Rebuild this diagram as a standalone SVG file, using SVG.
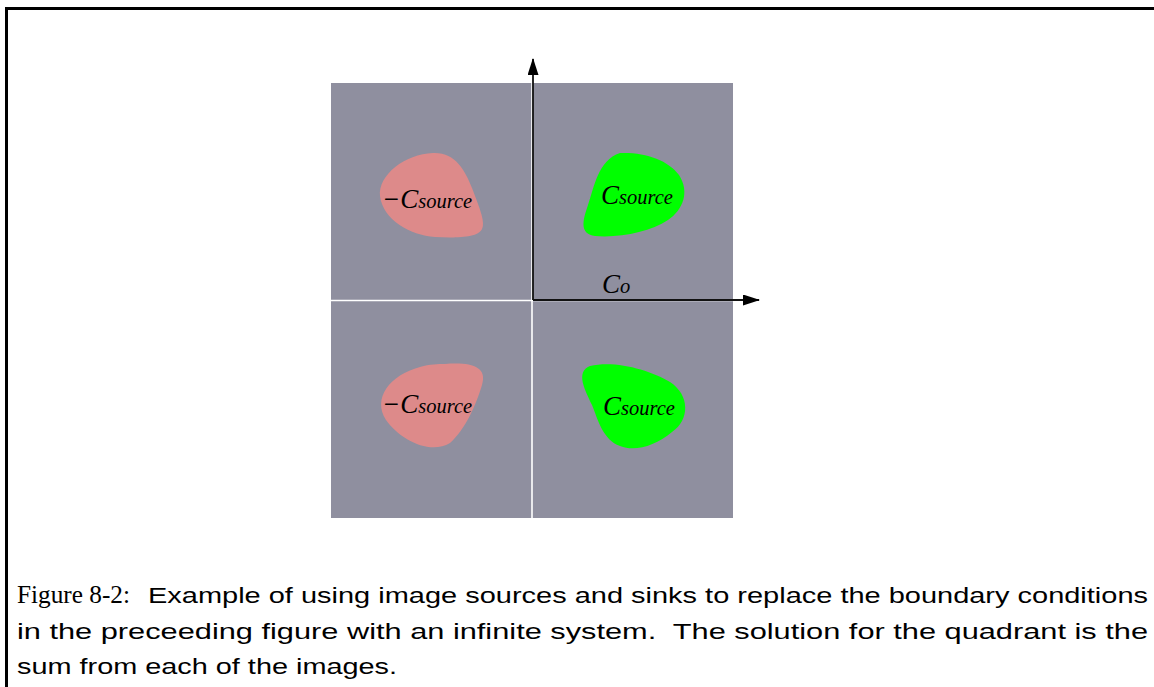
<svg xmlns="http://www.w3.org/2000/svg" width="1154" height="687" viewBox="0 0 1154 687">
  <style>
    .frame { fill: none; stroke: #000; stroke-width: 3; }
    .field { fill: #8f8f9f; }
    .split { stroke: #fff; stroke-width: 1.6; }
    .axis { stroke: #111; stroke-width: 1.8; fill: none; }
    .sink { fill: #dd8a8a; }
    .source { fill: #00ff00; }
    .lbl { font-family: "Liberation Serif", "Times New Roman", serif; font-style: italic; fill: #000; }
    .big { font-size: 27px; }
    .sub { font-size: 20.5px; }
    .cap { font-family: "Liberation Sans", Arial, sans-serif; font-size: 22px; fill: #000; }
    .capserif { font-family: "Liberation Serif", "Times New Roman", serif; font-size: 25px; fill: #000; }
  </style>
  <defs>
    <marker id="head" markerUnits="userSpaceOnUse" markerWidth="17" markerHeight="11" refX="16" refY="5.5" orient="auto">
      <path d="M0,0 L17,5.5 L0,11 Z" fill="#000"/>
    </marker>
  </defs>

  <rect width="1154" height="687" fill="#fff"/>
  <!-- page frame: top and left rules -->
  <path class="frame" d="M6.5,687 V8.5 H1154"/>

  <!-- quadrant field -->
  <g id="field">
    <rect class="field" x="331" y="83" width="402" height="435"/>
    <line class="split" x1="532" y1="83" x2="532" y2="518"/>
    <line class="split" x1="331" y1="300.5" x2="733" y2="300.5"/>
  </g>

  <!-- image sinks and sources -->
  <g id="sink-top-left">
    <path class="sink" d="M433,153 C455,152 465,170 472,188 C478,204 486,222 482,229 C478,238 455,238 435,237 C410,235 383,220 380,196 C378,175 405,154 433,153 Z"/>
    <text class="lbl" x="382" y="208"><tspan class="big">−C</tspan><tspan class="sub">source</tspan></text>
  </g>
  <g id="source-top-right">
    <path class="source" d="M620,153 C645,152 668,160 679,175 C690,192 683,210 668,220 C650,232 620,238 595,236 C580,234 582,222 588,205 C594,188 598,160 620,153 Z"/>
    <text class="lbl" x="601" y="204"><tspan class="big">C</tspan><tspan class="sub">source</tspan></text>
  </g>
  <g id="sink-bottom-left">
    <path class="sink" d="M445,364 C470,362 488,366 482,385 C476,405 465,430 450,443 C430,455 400,440 386,420 C372,398 390,375 420,367 C430,364 438,364 445,364 Z"/>
    <text class="lbl" x="382" y="413"><tspan class="big">−C</tspan><tspan class="sub">source</tspan></text>
  </g>
  <g id="source-bottom-right">
    <path class="source" d="M590,366 C615,360 650,370 670,382 C690,395 690,420 672,432 C655,446 635,452 620,446 C603,440 598,420 592,405 C585,390 575,372 590,366 Z"/>
    <text class="lbl" x="603" y="415"><tspan class="big">C</tspan><tspan class="sub">source</tspan></text>
  </g>

  <!-- axes -->
  <g id="axes">
    <path class="axis" d="M533,300 V59" marker-end="url(#head)"/>
    <path class="axis" d="M533,300 H759" marker-end="url(#head)"/>
  </g>
  <g id="axis-label">
    <text class="lbl" x="602" y="293"><tspan class="big">C</tspan><tspan class="sub">o</tspan></text>
  </g>

  <!-- caption -->
  <g id="caption">
    <text class="capserif" x="17" y="603" textLength="113" lengthAdjust="spacingAndGlyphs">Figure 8-2:</text>
    <text class="cap" x="148" y="603" textLength="1000" lengthAdjust="spacingAndGlyphs">Example of using image sources and sinks to replace the boundary conditions</text>
    <text class="cap" x="17" y="639" textLength="1131" lengthAdjust="spacingAndGlyphs" xml:space="preserve">in the preceeding figure with an infinite system.  The solution for the quadrant is the</text>
    <text class="cap" x="17" y="674" textLength="380" lengthAdjust="spacingAndGlyphs">sum from each of the images.</text>
  </g>
</svg>
